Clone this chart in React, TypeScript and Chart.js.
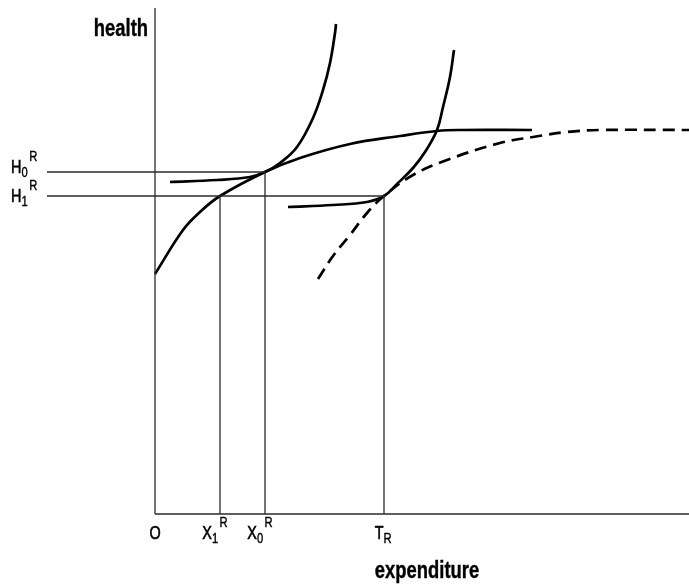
import React, { useEffect, useRef } from "react";
import { Chart, registerables } from "chart.js";

Chart.register(...registerables);

// Data units: x = expenditure, y = health (origin at the axes' corner)
const X_MAX = 534;
const Y_MAX = 506;

// Key levels
const X1R = 65;
const X0R = 110;
const TR = 229;
const H0R = 342;
const H1R = 318;
const REF_START = -108; // horizontal reference lines begin left of the axis

// Health production function (solid)
const prodX = [0, 28, 45, 65, 110, 145, 195, 245, 282, 305, 377];
const prodY = [240, 284, 302, 318, 342, 356, 370, 378, 383, 384, 384];

// Upper indifference curve
const ind1X = [15, 62, 95, 110, 125, 142, 158, 168, 175, 180, 181];
const ind1Y = [332, 334, 337, 342, 351, 367, 396, 424, 451, 481, 490];

// Lower indifference curve
const ind2X = [133, 178, 212, 229, 242, 258, 270, 282, 288, 295, 299];
const ind2Y = [307, 309, 312, 318, 330, 346, 362, 384, 407, 437, 464];

// Dashed curve
const dashX = [163, 178, 195, 212, 229, 258, 292, 345, 378, 412, 445, 534];
const dashY = [235, 258, 279, 301, 318, 339, 354, 371, 377, 382, 384, 384];

// Tick labels
const xTickValues = [0, X1R, X0R, TR];
const xTickMain = ["O", "X", "X", "T"];
const xTickSub = ["", "1", "0", "R"];
const xTickSup = ["", "R", "R", ""];

const yTickValues = [H0R, H1R];
const yTickMain = ["H", "H"];
const yTickSub = ["0", "1"];
const yTickSup = ["R", "R"];

const xTitle = "expenditure";
const yTitle = "health";

const pts = (xs: number[], ys: number[]) => xs.map((x, i) => ({ x, y: ys[i] }));

const FONT = '"Liberation Sans", Arial, sans-serif';
const SX = 0.8; // condensed look

const labelPlugin = {
  id: "econLabels",
  afterDraw(chart: any) {
    const ctx = chart.ctx as CanvasRenderingContext2D;
    const xs = chart.scales.x;
    const ys = chart.scales.y;
    ctx.save();
    ctx.fillStyle = "#000";
    ctx.strokeStyle = "#000";
    ctx.textBaseline = "alphabetic";
    ctx.textAlign = "left";

    const mainFont = `18px ${FONT}`;
    const smallFont = `14px ${FONT}`;

    const put = (t: string, x: number, y: number, sx = SX, stroke = 0.6) => {
      ctx.save();
      ctx.translate(x, y);
      ctx.scale(sx, 1);
      ctx.fillText(t, 0, 0);
      if (stroke > 0) {
        ctx.lineWidth = stroke;
        ctx.strokeText(t, 0, 0);
      }
      ctx.restore();
    };
    const wid = (t: string, sx = SX) => ctx.measureText(t).width * sx;

    const drawLabel = (left: number, base: number, main: string, sub: string, sup: string) => {
      ctx.font = mainFont;
      put(main, left, base);
      let x = left + wid(main);
      ctx.font = smallFont;
      if (sub) {
        put(sub, x, base + 4, SX, 0.4);
        x += wid(sub) + 1.5;
      }
      if (sup) {
        put(sup, x, base - 12, SX, 0.4);
      }
    };
    const blockWidth = (main: string, sub: string, sup: string) => {
      ctx.font = mainFont;
      let w = wid(main);
      ctx.font = smallFont;
      if (sub) w += wid(sub) + 1.5;
      if (sup) w += wid(sup);
      return w;
    };

    // x tick labels
    const xBase = ys.getPixelForValue(0) + 25;
    xTickValues.forEach((v, i) => {
      const px = xs.getPixelForValue(v);
      const w = blockWidth(xTickMain[i], xTickSub[i], xTickSup[i]);
      const shift = xTickSup[i] ? -5 : 0;
      drawLabel(px - w / 2 + shift, xBase, xTickMain[i], xTickSub[i], xTickSup[i]);
    });

    // y tick labels
    const yOffsets = [1, 6];
    yTickValues.forEach((v, i) => {
      const py = ys.getPixelForValue(v);
      drawLabel(11, py + yOffsets[i], yTickMain[i], yTickSub[i], yTickSup[i]);
    });

    // axis titles
    ctx.font = `bold 23px ${FONT}`;
    const hw = wid(yTitle, 0.8);
    put(yTitle, xs.getPixelForValue(0) - 7 - hw, 36, 0.8, 0.4);
    const ew = wid(xTitle, 0.8);
    put(xTitle, 427 - ew / 2, 578, 0.8, 0.4);
    ctx.restore();
  },
};

export default function App() {
  const ref = useRef<HTMLCanvasElement | null>(null);

  useEffect(() => {
    if (!ref.current) return;
    const thin = { borderColor: "#2a2a2a", borderWidth: 1.3, pointRadius: 0, fill: false, clip: false as any, tension: 0 };
    const thick = { borderColor: "#000", borderWidth: 2.7, pointRadius: 0, fill: false, clip: false as any, tension: 0.4 };

    const chart = new Chart(ref.current, {
      type: "line",
      data: {
        datasets: [
          { ...thin, label: "y-axis", data: pts([0, 0], [0, Y_MAX]) },
          { ...thin, label: "x-axis", data: pts([0, X_MAX], [0, 0]) },
          { ...thin, label: "H0", data: pts([REF_START, X0R], [H0R, H0R]) },
          { ...thin, label: "H1", data: pts([REF_START, TR], [H1R, H1R]) },
          { ...thin, label: "X1", data: pts([X1R, X1R], [0, H1R]) },
          { ...thin, label: "X0", data: pts([X0R, X0R], [0, H0R]) },
          { ...thin, label: "TR", data: pts([TR, TR], [0, H1R]) },
          { ...thick, label: "production", data: pts(prodX, prodY) },
          { ...thick, label: "ind1", data: pts(ind1X, ind1Y) },
          { ...thick, label: "ind2", data: pts(ind2X, ind2Y) },
          { ...thick, label: "dashed", data: pts(dashX, dashY), borderDash: [12, 7] },
        ],
      },
      options: {
        animation: false,
        responsive: false,
        maintainAspectRatio: false,
        layout: { padding: { left: 155, right: 0, top: 8, bottom: 74 } },
        plugins: { legend: { display: false }, tooltip: { enabled: false } },
        scales: {
          x: { type: "linear", min: 0, max: X_MAX, display: false },
          y: { type: "linear", min: 0, max: Y_MAX, display: false },
        },
        elements: { line: { borderCapStyle: "butt" } },
      },
      plugins: [labelPlugin],
    });
    return () => chart.destroy();
  }, []);

  return (
    <div style={{ position: "absolute", left: 0, top: 0, width: 689, height: 588, background: "#fff" }}>
      <canvas ref={ref} width={689} height={588} style={{ width: 689, height: 588 }} />
    </div>
  );
}
